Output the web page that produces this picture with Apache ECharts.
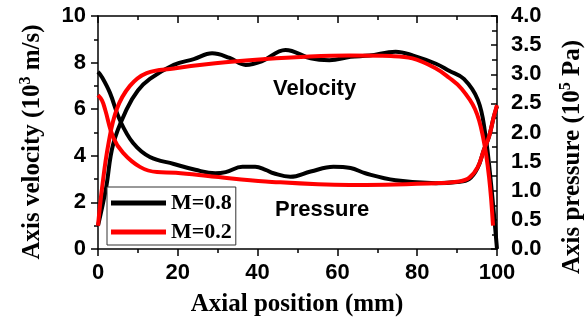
<!DOCTYPE html>
<html><head><meta charset="utf-8">
<script src="https://cdn.jsdelivr.net/npm/echarts@6/dist/echarts.min.js"></script>
<style>html,body{margin:0;padding:0;background:#fff}#c{width:585px;height:322px}</style>
</head><body><div id="c"></div>
<script>
const legendNames = ['M=0.8', 'M=0.2'];
const velocityM08 = [[0,1.0],[2,2.6],[3.8,4.5],[7.2,6.0],[10,6.8],[13,7.3],[19,7.9],[24,8.15],[28.6,8.4],[33,8.2],[37,7.9],[41,8.05],[47,8.54],[53.3,8.18],[58,8.1],[63.3,8.25],[68,8.3],[74.6,8.47],[79,8.3],[84.7,7.95],[88,7.65],[91.7,7.3],[95.2,6.4],[97,5.0],[98.5,2.8],[100,0]];
const velocityM02 = [[0,1.0],[1,2.6],[2.6,4.5],[4.7,6.0],[8,7.0],[12.2,7.55],[19,7.75],[29.4,7.97],[42,8.15],[52,8.25],[63,8.3],[73.4,8.28],[78.8,8.18],[84.7,7.75],[88,7.35],[91,6.9],[94.5,6.0],[96.5,4.8],[98,3.1],[99,1.0]];
const pressureM08 = [[0,3.04],[1,2.95],[3,2.68],[5.5,2.21],[8.8,1.82],[13,1.58],[19,1.46],[24.4,1.36],[29.4,1.30],[32,1.32],[36.2,1.41],[39.4,1.41],[42,1.36],[44,1.30],[48.2,1.24],[53.3,1.33],[59,1.41],[63.3,1.39],[67,1.30],[74.6,1.18],[84.7,1.13],[90,1.15],[93,1.2],[95.2,1.4],[96.7,1.7],[98,1.93],[99.2,2.27],[100,2.45]];
const pressureM02 = [[0,2.64],[1,2.55],[1.8,2.39],[3.8,1.92],[6.3,1.65],[10.5,1.41],[14.8,1.32],[19.5,1.31],[29.4,1.24],[42,1.16],[63,1.10],[84.7,1.13],[90.5,1.16],[93,1.22],[95.2,1.41],[96.7,1.70],[98,1.93],[99.2,2.27],[100,2.47]];
const xTitle = 'Axial position (mm)';
const annotations = ['Velocity', 'Pressure'];

const chart = echarts.init(document.getElementById('c'), null, {renderer: 'canvas'});
const tickFont = {color: '#000', fontFamily: 'Liberation Sans', fontWeight: 'bold', fontSize: 22};
const axisLine = {show: true, onZero: false, lineStyle: {color: '#000', width: 1.5}};
const serif = 'Liberation Serif';
const titleRich = {
  a: {fontFamily: serif, fontWeight: 'bold', fontSize: 25, fill: '#000', lineHeight: 30},
  s: {fontFamily: serif, fontWeight: 'bold', fontSize: 16, fill: '#000', lineHeight: 30, verticalAlign: 'top'}
};
function line(name, data, color, yIndex) {
  return {type: 'line', name, data, yAxisIndex: yIndex, smooth: 0.4, symbol: 'none', showSymbol: false,
    lineStyle: {color, width: 4}, itemStyle: {color}, animation: false};
}
chart.setOption({
  animation: false,
  backgroundColor: '#fff',
  grid: {left: 98, right: 88, top: 16, bottom: 73, containLabel: false, outerBoundsMode: 'none'},
  xAxis: [
    {type: 'value', position: 'bottom', min: 0, max: 100, interval: 20, axisLine,
     axisTick: {show: true, inside: false, length: 7, lineStyle: {color: '#000', width: 1.5}},
     minorTick: {show: true, splitNumber: 2, length: 4, lineStyle: {color: '#000', width: 1.5}},
     axisLabel: Object.assign({margin: 13}, tickFont), splitLine: {show: false}},
    {type: 'value', position: 'top', min: 0, max: 100, interval: 20, axisLine,
     axisTick: {show: true, inside: true, length: 7, lineStyle: {color: '#000', width: 1.5}},
     minorTick: {show: true, splitNumber: 2, length: 4, lineStyle: {color: '#000', width: 1.5}},
     axisLabel: {show: false}, splitLine: {show: false}}
  ],
  yAxis: [
    {type: 'value', position: 'left', min: 0, max: 10, interval: 2, axisLine,
     axisTick: {show: true, inside: false, length: 7, lineStyle: {color: '#000', width: 1.5}},
     minorTick: {show: true, splitNumber: 2, length: 4, lineStyle: {color: '#000', width: 1.5}},
     axisLabel: Object.assign({margin: 12}, tickFont), splitLine: {show: false}},
    {type: 'value', position: 'right', min: 0, max: 4, interval: 0.5, axisLine,
     axisTick: {show: true, inside: true, length: 6, lineStyle: {color: '#000', width: 1.5}},
     minorTick: {show: true, splitNumber: 2, length: 5, lineStyle: {color: '#000', width: 1.5}},
     axisLabel: Object.assign({margin: 14, formatter: v => v.toFixed(1)}, tickFont), splitLine: {show: false}}
  ],
  legend: {
    data: legendNames.map(n => ({name: n, icon: 'rect'})), orient: 'vertical', left: 107, top: 187,
    borderColor: '#333', borderWidth: 1, borderRadius: 0, backgroundColor: '#fff',
    padding: [5, 4, 2, 4], itemGap: 7, itemWidth: 55, itemHeight: 5,
    textStyle: {fontFamily: serif, fontWeight: 'bold', fontSize: 22, lineHeight: 22, color: '#000'},
    selectedMode: false
  },
  series: [
    line(legendNames[0], velocityM08, '#000', 0),
    line(legendNames[0], pressureM08, '#000', 1),
    line(legendNames[1], velocityM02, '#ff0000', 0),
    line(legendNames[1], pressureM02, '#ff0000', 1)
  ],
  graphic: [
    {type: 'text', x: 273, y: 89, silent: true,
     style: {text: annotations[0], font: 'bold 22px "Liberation Sans"', fill: '#000', verticalAlign: 'middle'}},
    {type: 'text', x: 275, y: 210, silent: true,
     style: {text: annotations[1], font: 'bold 22px "Liberation Sans"', fill: '#000', verticalAlign: 'middle'}},
    {type: 'text', x: 297, y: 305, silent: true,
     style: {text: xTitle, font: 'bold 25px "Liberation Serif"', fill: '#000', align: 'center', verticalAlign: 'middle'}},
    {type: 'text', x: 33, y: 142, rotation: Math.PI / 2, silent: true,
     style: {text: '{a|Axis velocity (10}{s|3}{a| m/s)}', rich: titleRich, align: 'center', verticalAlign: 'middle'}},
    {type: 'text', x: 573, y: 157, rotation: Math.PI / 2, silent: true,
     style: {text: '{a|Axis pressure (10}{s|5}{a| Pa)}', rich: titleRich, align: 'center', verticalAlign: 'middle'}}
  ]
});
</script></body></html>
